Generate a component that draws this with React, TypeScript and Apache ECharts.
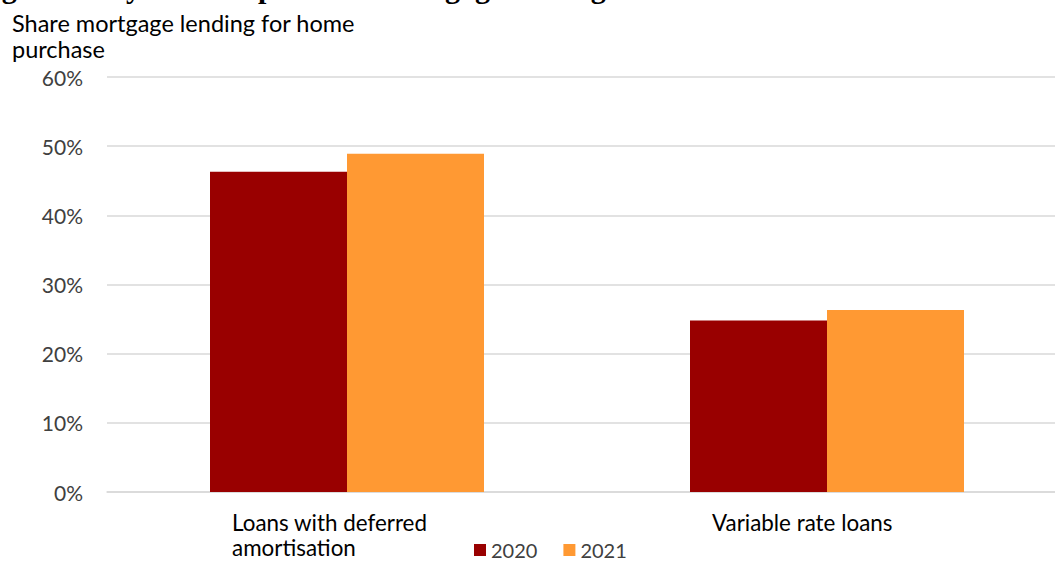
import React, { useEffect, useRef } from "react";
import * as echarts from "echarts";

// Share of mortgage lending for home purchase, by loan type
const categories = ["Loans with deferred\namortisation", "Variable rate loans"];
const seriesNames = ["2020", "2021"];
const values2020 = [46.3, 24.8];
const values2021 = [48.9, 26.3];
const yTicks = { min: 0, max: 60, interval: 10 };

const titleText =
  "Figure 3 Key share of purchase mortgage lending with deferred amortisation and variable rate";
const yAxisTitle = "Share mortgage lending for home\npurchase";

const FONT = "Lato, 'Noto Sans', sans-serif";
const DARK_RED = "#990000";
const ORANGE = "#FF9933";

export default function App() {
  const ref = useRef<HTMLDivElement>(null);

  useEffect(() => {
    if (!ref.current) return;
    const chart = echarts.init(ref.current, null, { renderer: "svg" });
    chart.setOption({
      animation: false,
      backgroundColor: "#ffffff",
      textStyle: { fontFamily: FONT },
      grid: {
        left: 107,
        width: 960,
        top: 77,
        bottom: 69,
        containLabel: false,
        outerBoundsMode: "none",
      },
      legend: {
        left: 469,
        top: 535,
        itemWidth: 12,
        itemHeight: 12,
        itemGap: 26,
        icon: "rect",
        textStyle: { fontFamily: FONT, fontSize: 20, color: "#404040", padding: [0, 0, 0, 0] },
        data: seriesNames,
      },
      graphic: [
        {
          type: "text",
          left: -25,
          top: -28,
          style: {
            text: titleText,
            font: "bold 30px 'Liberation Serif', 'DejaVu Serif', serif",
            fill: "#000000",
          },
        },
        {
          type: "text",
          left: 12,
          top: 10,
          style: {
            text: yAxisTitle,
            font: `23.5px ${FONT}`,
            lineHeight: 26,
            fill: "#000000",
          },
        },
      ],
      xAxis: {
        type: "category",
        data: categories,
        axisLine: { show: true, lineStyle: { color: "#d9d9d9", width: 1.5 } },
        axisTick: { show: false },
        axisLabel: {
          interval: 0,
          margin: 18,
          formatter: (v: string) =>
            v
              .split("\n")
              .map((line) => `{a|${line}}`)
              .join("\n"),
          rich: {
            a: {
              width: 230,
              align: "left",
              fontSize: 22.4,
              lineHeight: 25,
              color: "#000000",
              fontFamily: FONT,
            },
          },
        },
      },
      yAxis: {
        type: "value",
        min: yTicks.min,
        max: yTicks.max,
        interval: yTicks.interval,
        axisLine: { show: false },
        axisTick: { show: false },
        axisLabel: {
          margin: 24,
          fontSize: 21,
          color: "#404040",
          fontFamily: FONT,
          formatter: "{value}%",
        },
        splitLine: { lineStyle: { color: "#d9d9d9", width: 1.5 } },
      },
      series: [
        {
          name: seriesNames[0],
          type: "bar",
          data: values2020,
          barWidth: 137,
          barGap: "0%",
          itemStyle: { color: DARK_RED },
        },
        {
          name: seriesNames[1],
          type: "bar",
          data: values2021,
          barWidth: 137,
          barGap: "0%",
          itemStyle: { color: ORANGE },
        },
      ],
    });
    return () => chart.dispose();
  }, []);

  return <div ref={ref} style={{ width: 1055, height: 561, position: "absolute", left: 0, top: 0 }} />;
}
